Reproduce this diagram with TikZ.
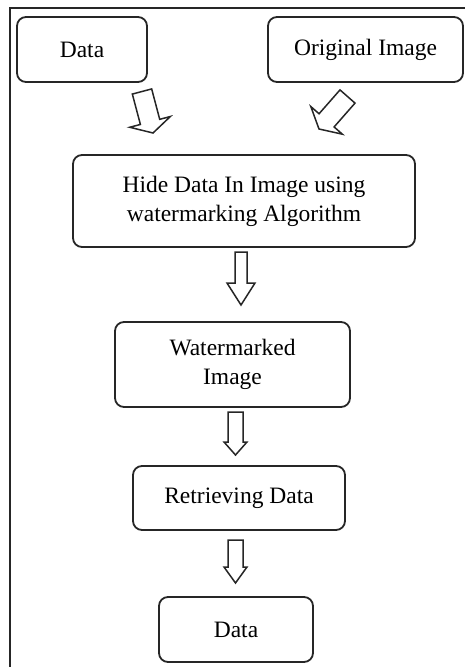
\documentclass[tikz,border=0pt]{standalone}
\usepackage{fontspec}
\setmainfont{Liberation Serif}
\usetikzlibrary{calc}

\tikzset{
  box/.style={draw=black!85, line width=1.8pt, rounded corners=9pt, inner sep=0pt,
    align=center, font=\fontsize{23.5}{29}\selectfont},
  blockarrow/.style={draw=black!85, line width=1.5pt, line join=miter, fill=white},
  frameline/.style={draw=black!85, line width=2pt}
}

% hollow block arrow from #1 to #2: shaft half width #3, head half width #4, head length #5
\newcommand\blockarrow[5]{%
  \coordinate (ba-base) at ($(#2)!#5!(#1)$);
  \draw[blockarrow] ($(#1)!#3!90:(#2)$) -- ($(ba-base)!#3!90:(#2)$)
    -- ($(ba-base)!#4!90:(#2)$) -- (#2) -- ($(ba-base)!#4!-90:(#2)$)
    -- ($(ba-base)!#3!-90:(#2)$) -- ($(#1)!#3!-90:(#2)$) -- cycle;
}

\begin{document}
\begin{tikzpicture}[x=1pt, y=-1pt]
  \useasboundingbox (0,0) rectangle (465,667);

  % frame
  \draw[frameline] (10,667) -- (10,8) -- (465,8);

  % boxes
  \node[box, minimum width=130pt, minimum height=65pt] (data1) at (82,49.5) {Data};
  \node[box, minimum width=195pt, minimum height=65pt] (orig) at (365.5,49.5) {Original Image};
  \node[box, minimum width=342pt, minimum height=92pt] (hide) at (244,201)
    {Hide Data In Image using\\watermarking Algorithm};
  \node[box, minimum width=235pt, minimum height=85pt] (wm) at (232.5,364.5)
    {Watermarked\\Image};
  \node[box, minimum width=212pt, minimum height=64pt] (ret) at (239,498) {Retrieving Data};
  \node[box, minimum width=154pt, minimum height=65pt] (data2) at (236,629.5) {Data};

  % arrow end points
  \coordinate (a1s) at (142,91.5);   \coordinate (a1e) at (153,133);
  \coordinate (a2s) at (347.5,96.5); \coordinate (a2e) at (319,129);
  \coordinate (a3s) at (241,252);    \coordinate (a3e) at (241,305);
  \coordinate (a4s) at (235.5,412);  \coordinate (a4e) at (235.5,455);
  \coordinate (a5s) at (235.5,540);  \coordinate (a5e) at (235.5,583);

  % arrows
  \blockarrow{a1s}{a1e}{10pt}{21pt}{11.5pt}
  \blockarrow{a2s}{a2e}{10pt}{21pt}{11.5pt}
  \blockarrow{a3s}{a3e}{6pt}{14pt}{22pt}
  \blockarrow{a4s}{a4e}{7.5pt}{11.5pt}{13pt}
  \blockarrow{a5s}{a5e}{7.5pt}{11.5pt}{16pt}
\end{tikzpicture}
\end{document}
